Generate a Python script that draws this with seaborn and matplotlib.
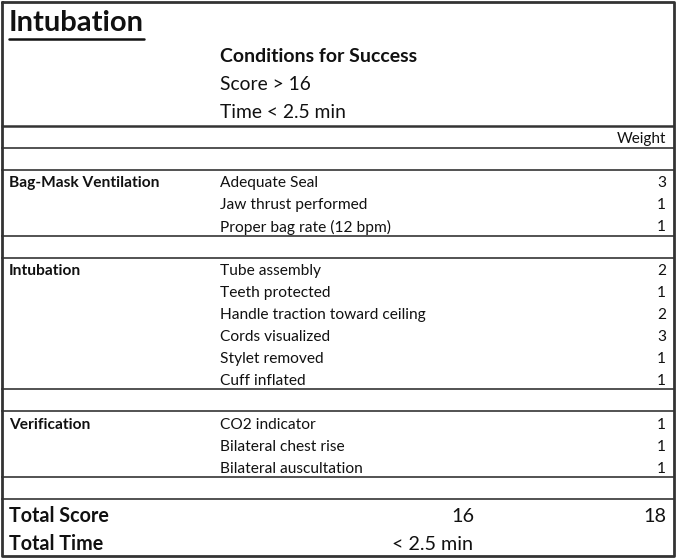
import seaborn as sns
import matplotlib.pyplot as plt

# table content
title = "Intubation"
conditions_head = "Conditions for Success"
conditions = ["Score > 16", "Time < 2.5 min"]
weight_head = "Weight"

sections = ["Bag-Mask Ventilation", "Intubation", "Verification"]
bmv_items = ["Adequate Seal", "Jaw thrust performed", "Proper bag rate (12 bpm)"]
bmv_weights = [3, 1, 1]
intub_items = ["Tube assembly", "Teeth protected", "Handle traction toward ceiling",
               "Cords visualized", "Stylet removed", "Cuff inflated"]
intub_weights = [2, 1, 2, 3, 1, 1]
verif_items = ["CO2 indicator", "Bilateral chest rise", "Bilateral auscultation"]
verif_weights = [1, 1, 1]

total_labels = ["Total Score", "Total Time"]
success_score = 16
max_score = 18
total_time = "< 2.5 min"

sns.set_theme(style="white")
plt.rcParams['font.family'] = ['Lato', 'DejaVu Sans']
ink = "#111111"

W, H = 676, 558
fig = plt.figure(figsize=(W / 100, H / 100), dpi=100)
ax = fig.add_axes([0, 0, 1, 1])
ax.set_xlim(0, W)
ax.set_ylim(H, 0)
ax.axis("off")

x_left, x_mid, x_right = 9, 220, 666
fs_item = 11.2
dy = 2.5  # small nudge so text sits like the original

# header block
t = ax.text(x_left, 23, title, fontsize=21, fontweight="bold", color=ink, va="center")
ax.text(x_mid, 56, conditions_head, fontsize=14, fontweight="bold", color=ink, va="center")
for i, c in enumerate(conditions):
    ax.text(x_mid, 84 + i * 29, c, fontsize=13.9, color=ink, va="center")

# rows grid
top = 126
n_rows = 1 + 1 + len(bmv_items) + 1 + len(intub_items) + 1 + len(verif_items) + 1
rh = (499 - top) / n_rows

def row_y(k):
    return top + rh * (k + 0.5) + dy

def hline(y, lw=1.3, c="#444444"):
    ax.plot([1, 674], [y, y], color=c, lw=lw, solid_capstyle="butt")

hline(top, lw=1.8, c="#333333")
ax.text(x_right, row_y(0), weight_head, fontsize=11, color=ink, va="center", ha="right")
hline(top + rh)

k = 2
groups = [(bmv_items, bmv_weights), (intub_items, intub_weights), (verif_items, verif_weights)]
for name, (items, weights) in zip(sections, groups):
    hline(top + rh * k)
    ax.text(x_left, row_y(k), name, fontsize=fs_item, fontweight="bold", color=ink, va="center")
    for j, (it, w) in enumerate(zip(items, weights)):
        ax.text(x_mid, row_y(k + j), it, fontsize=fs_item, color=ink, va="center")
        ax.text(x_right, row_y(k + j), str(w), fontsize=fs_item, color=ink, va="center", ha="right")
    k += len(items)
    hline(top + rh * k)
    k += 1
hline(top + rh * k)

# totals
fs_tot = 14.2
ax.text(x_left, 516, total_labels[0], fontsize=fs_tot, fontweight="bold", color=ink, va="center")
ax.text(463, 516, str(success_score), fontsize=fs_tot, color=ink, va="center", ha="center")
ax.text(x_right, 516, str(max_score), fontsize=fs_tot, color=ink, va="center", ha="right")
ax.text(x_left, 544, total_labels[1], fontsize=fs_tot, fontweight="bold", color=ink, va="center")
ax.text(432, 544, total_time, fontsize=fs_tot, color=ink, va="center", ha="center")

# outer frame
ax.plot([1.5, 674, 674, 1.5, 1.5], [1.5, 1.5, 556, 556, 1.5], color="#333333", lw=2)

# underline the title
fig.canvas.draw()
bb = t.get_window_extent().transformed(ax.transData.inverted())
ax.plot([bb.x0, bb.x1], [38.5, 38.5], color=ink, lw=1.8)

fig.savefig("out.png", dpi=100, facecolor="white")
